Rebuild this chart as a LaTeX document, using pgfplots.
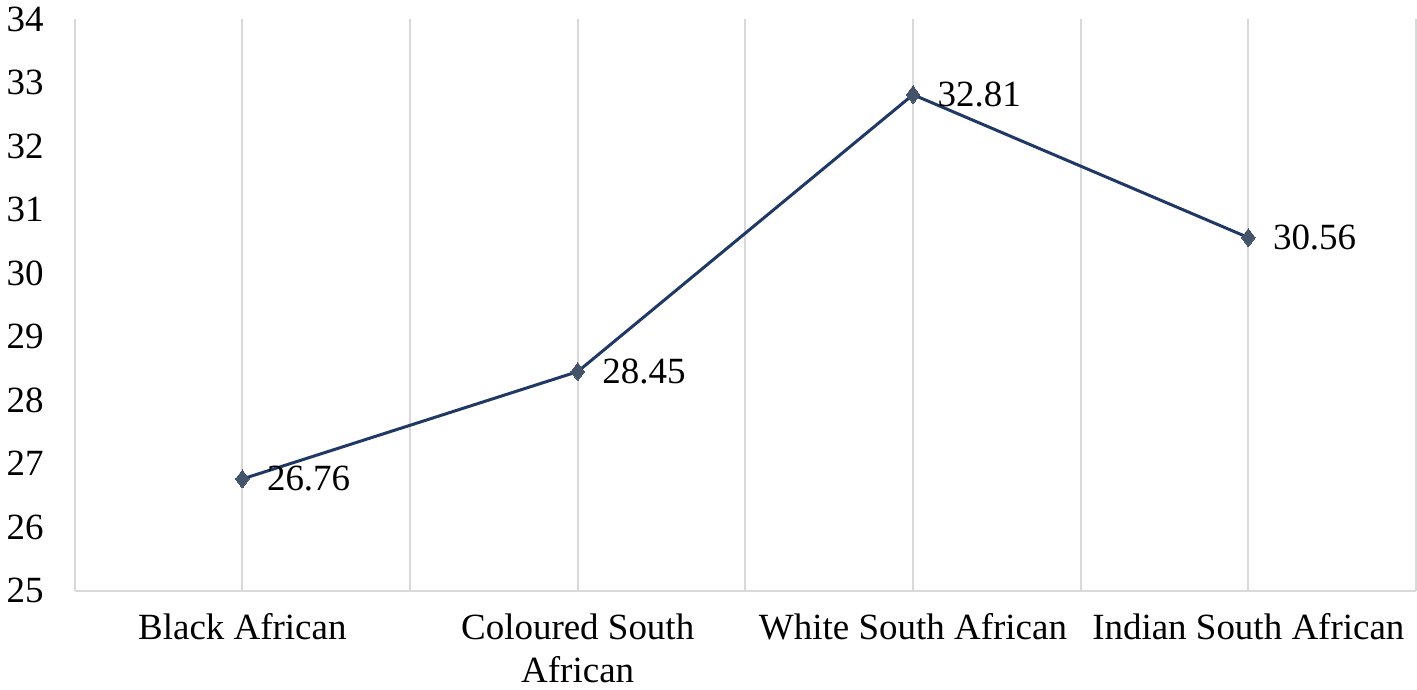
\documentclass[border=0pt]{standalone}
\usepackage{pgfplots}
\pgfplotsset{compat=1.18}
\usepackage{fontspec}
\setmainfont{Liberation Serif}
\definecolor{navyline}{HTML}{1F3864}
\definecolor{slatemark}{HTML}{44546A}
\definecolor{gridgray}{HTML}{D9D9D9}
\begin{document}
\begin{tikzpicture}
\begin{axis}[
  width=671pt, height=286pt, scale only axis,
  xmin=-0.5, xmax=3.5, ymin=25, ymax=34,
  xtick={0,1,2,3},
  xticklabels={Black African, {Coloured South\\African}, White South African, Indian South African},
  minor xtick={-0.5,0.5,1.5,2.5,3.5},
  xmajorgrids, xminorgrids,
  major grid style={draw=gridgray, line width=1pt},
  minor grid style={draw=gridgray, line width=1pt},
  ytick={25,26,...,34},
  axis x line*=bottom, axis y line*=left,
  y axis line style={draw=none},
  x axis line style={draw=gridgray, line width=1pt, -},
  major tick length=0pt, minor tick length=0pt,
  tick label style={font=\fontsize{18.5}{21.5}\selectfont},
  xticklabel style={align=center, yshift=-8pt},
  yticklabel style={xshift=-12pt},
  /pgf/number format/assume math mode=true,
  clip=false,
]
\addplot[color=navyline, line width=1.5pt, mark=diamond*,
  mark size=4.5pt, mark options={fill=slatemark, draw=slatemark, line width=0pt},
  nodes near coords, point meta=explicit symbolic,
  nodes near coords style={anchor=west, xshift=9pt, font=\fontsize{18.5}{21.5}\selectfont, text=black}]
  table[meta=label] {
x y label
0 26.76 26.76
1 28.45 28.45
2 32.81 32.81
3 30.56 30.56
};
\end{axis}
\end{tikzpicture}
\end{document}
